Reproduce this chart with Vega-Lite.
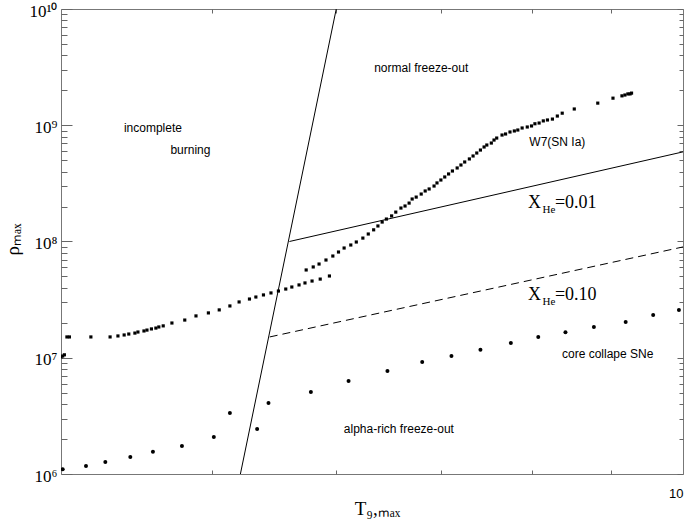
{
  "$schema": "https://vega.github.io/schema/vega-lite/v6.json",
  "width": 622,
  "height": 465,
  "autosize": {"type": "none"},
  "padding": {"left": 61, "top": 9, "right": 2, "bottom": 48},
  "background": "white",
  "config": {
    "view": {"stroke": "#777", "strokeWidth": 1},
    "axis": {"grid": false, "domainColor": "#777", "tickColor": "#666", "tickWidth": 1, "domainWidth": 1, "labelColor": "black", "titleColor": "black"}
  },
  "datasets": {
    "boundaries": [
      {"line": "steep", "T": 5.21, "rho": 1e6},
      {"line": "steep", "T": 6.0, "rho": 1e10},
      {"line": "he01", "T": 5.60, "rho": 1e8},
      {"line": "he01", "T": 10, "rho": 5.9e8},
      {"line": "he10", "T": 5.44, "rho": 1.51e7},
      {"line": "he10", "T": 10, "rho": 8.98e7}
    ],
    "snia": [
      {"T": 3.99, "rho": 1.015e7}, {"T": 4.00, "rho": 1.015e7}, {"T": 4.01, "rho": 1.035e7}, {"T": 4.02, "rho": 1.06e7},
      {"T": 4.035, "rho": 1.51e7}, {"T": 4.05, "rho": 1.51e7}, {"T": 4.18, "rho": 1.51e7}, {"T": 4.30, "rho": 1.51e7},
      {"T": 4.35, "rho": 1.54e7}, {"T": 4.39, "rho": 1.57e7}, {"T": 4.42, "rho": 1.60e7}, {"T": 4.46, "rho": 1.63e7},
      {"T": 4.48, "rho": 1.665e7}, {"T": 4.52, "rho": 1.70e7}, {"T": 4.54, "rho": 1.73e7}, {"T": 4.57, "rho": 1.77e7},
      {"T": 4.60, "rho": 1.80e7}, {"T": 4.62, "rho": 1.84e7}, {"T": 4.65, "rho": 1.88e7}, {"T": 4.71, "rho": 1.99e7},
      {"T": 4.80, "rho": 2.11e7}, {"T": 4.88, "rho": 2.29e7}, {"T": 4.97, "rho": 2.43e7}, {"T": 5.05, "rho": 2.58e7},
      {"T": 5.13, "rho": 2.79e7}, {"T": 5.20, "rho": 3.02e7}, {"T": 5.28, "rho": 3.20e7}, {"T": 5.33, "rho": 3.33e7},
      {"T": 5.39, "rho": 3.47e7}, {"T": 5.45, "rho": 3.61e7}, {"T": 5.51, "rho": 3.75e7}, {"T": 5.57, "rho": 3.90e7},
      {"T": 5.62, "rho": 4.06e7}, {"T": 5.68, "rho": 4.23e7}, {"T": 5.73, "rho": 4.40e7}, {"T": 5.79, "rho": 4.57e7},
      {"T": 5.86, "rho": 4.75e7}, {"T": 5.94, "rho": 5.05e7},
      {"T": 5.74, "rho": 5.69e7}, {"T": 5.80, "rho": 6.04e7}, {"T": 5.85, "rho": 6.40e7}, {"T": 5.91, "rho": 6.93e7},
      {"T": 5.97, "rho": 7.50e7}, {"T": 6.02, "rho": 8.12e7}, {"T": 6.07, "rho": 8.79e7}, {"T": 6.13, "rho": 9.33e7},
      {"T": 6.18, "rho": 9.90e7}, {"T": 6.24, "rho": 1.07e8}, {"T": 6.29, "rho": 1.16e8}, {"T": 6.34, "rho": 1.26e8},
      {"T": 6.38, "rho": 1.36e8}, {"T": 6.42, "rho": 1.47e8}, {"T": 6.46, "rho": 1.56e8}, {"T": 6.51, "rho": 1.66e8},
      {"T": 6.55, "rho": 1.79e8}, {"T": 6.60, "rho": 1.94e8}, {"T": 6.64, "rho": 2.02e8}, {"T": 6.68, "rho": 2.14e8},
      {"T": 6.71, "rho": 2.32e8}, {"T": 6.75, "rho": 2.41e8}, {"T": 6.80, "rho": 2.56e8}, {"T": 6.84, "rho": 2.72e8},
      {"T": 6.88, "rho": 2.83e8}, {"T": 6.93, "rho": 3.00e8}, {"T": 6.96, "rho": 3.19e8}, {"T": 7.00, "rho": 3.38e8},
      {"T": 7.04, "rho": 3.59e8}, {"T": 7.08, "rho": 3.81e8}, {"T": 7.12, "rho": 4.04e8}, {"T": 7.17, "rho": 4.29e8},
      {"T": 7.21, "rho": 4.55e8}, {"T": 7.25, "rho": 4.83e8}, {"T": 7.30, "rho": 5.13e8}, {"T": 7.34, "rho": 5.44e8},
      {"T": 7.38, "rho": 5.77e8}, {"T": 7.42, "rho": 6.12e8}, {"T": 7.46, "rho": 6.50e8}, {"T": 7.49, "rho": 6.76e8},
      {"T": 7.54, "rho": 7.03e8}, {"T": 7.57, "rho": 7.46e8}, {"T": 7.60, "rho": 7.76e8}, {"T": 7.66, "rho": 8.24e8},
      {"T": 7.70, "rho": 8.41e8}, {"T": 7.75, "rho": 8.75e8}, {"T": 7.80, "rho": 8.93e8}, {"T": 7.84, "rho": 9.10e8},
      {"T": 7.89, "rho": 9.47e8}, {"T": 7.95, "rho": 9.66e8}, {"T": 8.00, "rho": 9.86e8}, {"T": 8.04, "rho": 1.03e9},
      {"T": 8.09, "rho": 1.045e9}, {"T": 8.14, "rho": 1.09e9}, {"T": 8.19, "rho": 1.11e9}, {"T": 8.25, "rho": 1.13e9},
      {"T": 8.31, "rho": 1.20e9}, {"T": 8.37, "rho": 1.27e9}, {"T": 8.52, "rho": 1.38e9}, {"T": 8.82, "rho": 1.55e9},
      {"T": 9.02, "rho": 1.71e9}, {"T": 9.14, "rho": 1.79e9}, {"T": 9.18, "rho": 1.82e9}, {"T": 9.22, "rho": 1.86e9},
      {"T": 9.25, "rho": 1.86e9}, {"T": 9.27, "rho": 1.89e9}
    ],
    "ccsn": [
      {"T": 4.01, "rho": 1.10e6}, {"T": 4.15, "rho": 1.17e6}, {"T": 4.27, "rho": 1.27e6}, {"T": 4.43, "rho": 1.40e6},
      {"T": 4.58, "rho": 1.55e6}, {"T": 4.78, "rho": 1.74e6}, {"T": 5.01, "rho": 2.08e6}, {"T": 5.13, "rho": 3.35e6},
      {"T": 5.34, "rho": 2.44e6}, {"T": 5.43, "rho": 4.08e6}, {"T": 5.78, "rho": 5.07e6}, {"T": 6.11, "rho": 6.3e6},
      {"T": 6.47, "rho": 7.69e6}, {"T": 6.81, "rho": 9.19e6}, {"T": 7.11, "rho": 1.035e7}, {"T": 7.42, "rho": 1.17e7},
      {"T": 7.76, "rho": 1.34e7}, {"T": 8.08, "rho": 1.51e7}, {"T": 8.41, "rho": 1.66e7}, {"T": 8.77, "rho": 1.84e7},
      {"T": 9.19, "rho": 2.03e7}, {"T": 9.57, "rho": 2.33e7}, {"T": 9.94, "rho": 2.58e7}
    ],
    "notes": [
      {"note": "normal freeze-out", "T": 6.80, "rho": 3.10e9},
      {"note": "incomplete", "T": 4.58, "rho": 9.46e8},
      {"note": "burning", "T": 4.84, "rho": 6.12e8},
      {"note": "W7(SN Ia)", "T": 8.31, "rho": 7.18e8},
      {"note": "core collape SNe", "T": 8.95, "rho": 1.077e7},
      {"note": "alpha-rich freeze-out", "T": 6.58, "rho": 2.44e6}
    ],
    "xhe": [
      {"part": "big", "note": "X", "T": 7.96, "rho": 1.94e8},
      {"part": "sub", "note": "He", "T": 8.13, "rho": 1.76e8},
      {"part": "big", "note": "=0.01", "T": 8.28, "rho": 1.94e8},
      {"part": "big", "note": "X", "T": 7.96, "rho": 3.14e7},
      {"part": "sub", "note": "He", "T": 8.13, "rho": 2.84e7},
      {"part": "big", "note": "=0.10", "T": 8.28, "rho": 3.14e7}
    ]
  },
  "resolve": {"axis": {"x": "independent", "y": "independent"}},
  "layer": [
    {
      "data": {"name": "boundaries"},
      "transform": [{"filter": "datum.line == 'steep'"}],
      "mark": {"type": "line", "color": "black", "strokeWidth": 1},
      "encoding": {
        "x": {"field": "T", "type": "quantitative", "scale": {"type": "log", "domain": [4, 10], "nice": false},
          "axis": {"orient": "bottom", "values": [10], "ticks": false, "domain": false, "labelExpr": "datum.value == 10 ? '10' : ''",
            "labelFont": "Liberation Sans", "labelFontSize": 13, "labelAlign": "right", "labelBaseline": "top", "labelPadding": 13,
            "title": "T₉,ₘₐₓ", "titleFont": "Liberation Serif", "titleFontSize": 19, "titleFontWeight": "normal",
            "titleX": 316, "titleY": 40, "titleAlign": "center", "titleBaseline": "alphabetic"}},
        "y": {"field": "rho", "type": "quantitative", "scale": {"type": "log", "domain": [1e6, 1e10], "nice": false},
          "axis": {"orient": "left", "values": [1e6, 1e7, 1e8, 1e9, 1e10], "tickSize": -11, "domain": false,
            "labelExpr": "datum.value == 1e6 ? '10⁶' : datum.value == 1e7 ? '10⁷' : datum.value == 1e8 ? '10⁸' : datum.value == 1e9 ? '10⁹' : '10¹⁰'",
            "labelFont": "Liberation Serif", "labelFontSize": 17, "labelPadding": 15, "labelBaseline": "middle", "labelOffset": 2,
            "title": "ρₘₐₓ", "titleFont": "Liberation Serif", "titleFontSize": 19, "titleFontWeight": "normal",
            "titleX": -49, "titleY": 230, "titleAlign": "center", "titleBaseline": "middle", "titleAngle": 270}}
      }
    },
    {
      "data": {"name": "boundaries"},
      "transform": [{"filter": "datum.line == 'he01'"}],
      "mark": {"type": "line", "color": "black", "strokeWidth": 1},
      "encoding": {
        "x": {"field": "T", "type": "quantitative", "scale": {"type": "log", "domain": [4, 10], "nice": false},
          "axis": {"orient": "bottom", "values": [5, 6, 7, 8, 9], "tickSize": -4, "labels": false, "title": null, "domain": false}},
        "y": {"field": "rho", "type": "quantitative", "scale": {"type": "log", "domain": [1e6, 1e10], "nice": false},
          "axis": {"orient": "left", "values": [2e6, 3e6, 4e6, 5e6, 6e6, 7e6, 8e6, 9e6, 2e7, 3e7, 4e7, 5e7, 6e7, 7e7, 8e7, 9e7, 2e8, 3e8, 4e8, 5e8, 6e8, 7e8, 8e8, 9e8, 2e9, 3e9, 4e9, 5e9, 6e9, 7e9, 8e9, 9e9],
            "tickSize": -6, "labels": false, "title": null, "domain": false}}
      }
    },
    {
      "data": {"name": "boundaries"},
      "transform": [{"filter": "datum.line == 'he10'"}],
      "mark": {"type": "line", "color": "black", "strokeWidth": 1, "strokeDash": [8, 5]},
      "encoding": {
        "x": {"field": "T", "type": "quantitative", "scale": {"type": "log", "domain": [4, 10], "nice": false},
          "axis": {"orient": "top", "values": [5, 6, 7, 8, 9], "tickSize": -4, "labels": false, "title": null, "domain": false}},
        "y": {"field": "rho", "type": "quantitative", "scale": {"type": "log", "domain": [1e6, 1e10], "nice": false},
          "axis": {"orient": "right", "values": [1e6, 1e7, 1e8, 1e9, 1e10], "tickSize": -6, "labels": false, "title": null, "domain": false}}
      }
    },
    {
      "data": {"name": "ccsn"},
      "mark": {"type": "circle", "color": "black", "opacity": 1, "size": 16, "clip": true},
      "encoding": {
        "x": {"field": "T", "type": "quantitative", "scale": {"type": "log", "domain": [4, 10], "nice": false}, "axis": null},
        "y": {"field": "rho", "type": "quantitative", "scale": {"type": "log", "domain": [1e6, 1e10], "nice": false},
          "axis": {"orient": "right", "values": [2e6, 3e6, 4e6, 5e6, 6e6, 7e6, 8e6, 9e6, 2e7, 3e7, 4e7, 5e7, 6e7, 7e7, 8e7, 9e7, 2e8, 3e8, 4e8, 5e8, 6e8, 7e8, 8e8, 9e8, 2e9, 3e9, 4e9, 5e9, 6e9, 7e9, 8e9, 9e9],
            "tickSize": -4, "labels": false, "title": null, "domain": false}}
      }
    },
    {
      "data": {"name": "snia"},
      "mark": {"type": "point", "shape": "square", "filled": true, "color": "black", "opacity": 1, "size": 10, "clip": true},
      "encoding": {
        "x": {"field": "T", "type": "quantitative", "scale": {"type": "log", "domain": [4, 10], "nice": false}, "axis": null},
        "y": {"field": "rho", "type": "quantitative", "scale": {"type": "log", "domain": [1e6, 1e10], "nice": false}, "axis": null}
      }
    },
    {
      "data": {"name": "notes"},
      "mark": {"type": "text", "font": "Liberation Sans", "fontSize": 12, "color": "black", "align": "center", "baseline": "middle"},
      "encoding": {
        "x": {"field": "T", "type": "quantitative", "scale": {"type": "log", "domain": [4, 10], "nice": false}, "axis": null},
        "y": {"field": "rho", "type": "quantitative", "scale": {"type": "log", "domain": [1e6, 1e10], "nice": false}, "axis": null},
        "text": {"field": "note"}
      }
    },
    {
      "data": {"name": "xhe"},
      "transform": [{"filter": "datum.part == 'big'"}],
      "mark": {"type": "text", "font": "Liberation Serif", "fontSize": 18, "color": "black", "align": "left", "baseline": "alphabetic"},
      "encoding": {
        "x": {"field": "T", "type": "quantitative", "scale": {"type": "log", "domain": [4, 10], "nice": false}, "axis": null},
        "y": {"field": "rho", "type": "quantitative", "scale": {"type": "log", "domain": [1e6, 1e10], "nice": false}, "axis": null},
        "text": {"field": "note"}
      }
    },
    {
      "data": {"name": "xhe"},
      "transform": [{"filter": "datum.part == 'sub'"}],
      "mark": {"type": "text", "font": "Liberation Serif", "fontSize": 11, "color": "black", "align": "left", "baseline": "alphabetic"},
      "encoding": {
        "x": {"field": "T", "type": "quantitative", "scale": {"type": "log", "domain": [4, 10], "nice": false}, "axis": null},
        "y": {"field": "rho", "type": "quantitative", "scale": {"type": "log", "domain": [1e6, 1e10], "nice": false}, "axis": null},
        "text": {"field": "note"}
      }
    }
  ]
}
